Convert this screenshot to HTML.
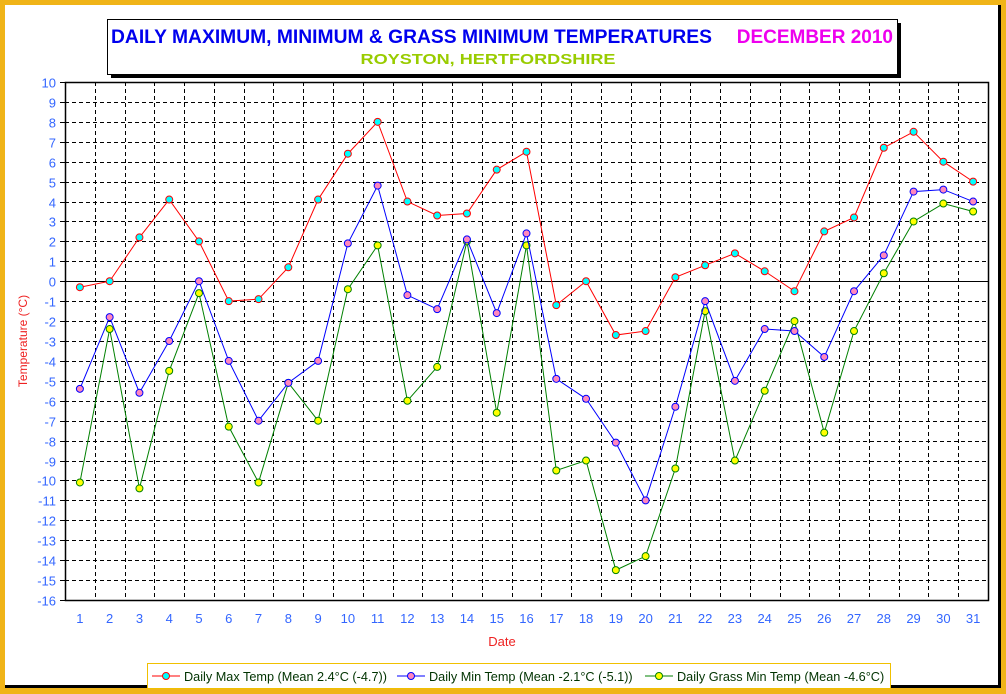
<!DOCTYPE html>
<html><head><meta charset="utf-8"><style>
body{margin:0;width:1006px;height:694px;overflow:hidden;background:#f0b418;font-family:"Liberation Sans",sans-serif}
#frame{position:absolute;left:5px;top:5px;width:993px;height:680px;background:#fff;border-right:3px solid #000;border-bottom:3px solid #000}
</style></head><body>
<div id="frame"></div>
<svg id="c" width="1006" height="694" style="position:absolute;left:0;top:0" font-family="Liberation Sans, sans-serif"></svg>
<script>
const days=[1,2,3,4,5,6,7,8,9,10,11,12,13,14,15,16,17,18,19,20,21,22,23,24,25,26,27,28,29,30,31];
const maxTemp=[-0.3,0,2.2,4.1,2,-1,-0.9,0.7,4.1,6.4,8,4,3.3,3.4,5.6,6.5,-1.2,0,-2.7,-2.5,0.2,0.8,1.4,0.5,-0.5,2.5,3.2,6.7,7.5,6,5];
const minTemp=[-5.4,-1.8,-5.6,-3,0,-4,-7,-5.1,-4,1.9,4.8,-0.7,-1.4,2.1,-1.6,2.4,-4.9,-5.9,-8.1,-11,-6.3,-1,-5,-2.4,-2.5,-3.8,-0.5,1.3,4.5,4.6,4];
const grassMin=[-10.1,-2.4,-10.4,-4.5,-0.6,-7.3,-10.1,-5.1,-7,-0.4,1.8,-6,-4.3,2,-6.6,1.8,-9.5,-9,-14.5,-13.8,-9.4,-1.5,-9,-5.5,-2,-7.6,-2.5,0.4,3,3.9,3.5];
const yTicks=[10,9,8,7,6,5,4,3,2,1,0,-1,-2,-3,-4,-5,-6,-7,-8,-9,-10,-11,-12,-13,-14,-15,-16];
const L=65,R=988,T=82,B=600,yMax=10,yMin=-16;
const bw=(R-L)/days.length;
const X=i=>L+(i+0.5)*bw;
const Y=v=>T+(yMax-v)*(B-T)/(yMax-yMin);
const svg=document.getElementById('c');const NS='http://www.w3.org/2000/svg';
function mk(tag,a,txt){const e=document.createElementNS(NS,tag);for(const k in a)e.setAttribute(k,a[k]);if(txt!==undefined)e.textContent=txt;svg.appendChild(e);return e;}
let e=mk('rect',{x:111,y:23,width:790,height:55,fill:'#000'});


e=mk('rect',{x:107.5,y:19.5,width:790,height:55,fill:'#fff',stroke:'#000'});


e=mk('text',{x:111,y:43,fill:'#0000ee','font-size':19,'font-weight':'bold',textLength:601,lengthAdjust:'spacingAndGlyphs'},'DAILY MAXIMUM, MINIMUM & GRASS MINIMUM TEMPERATURES');


e=mk('text',{x:893,y:43,fill:'#ee00ee','font-size':19,'font-weight':'bold','text-anchor':'end'},'DECEMBER 2010');


e=mk('text',{x:488,y:64,fill:'#99cc00','font-size':15,'font-weight':'bold','text-anchor':'middle',textLength:255,lengthAdjust:'spacingAndGlyphs'},'ROYSTON, HERTFORDSHIRE');


yTicks.forEach(v=>{const y=Math.round(Y(v))+0.5;
 if(v!==yMax&&v!==yMin){e=mk('line',{x1:L,x2:R,y1:y,y2:y,stroke:'#000','stroke-dasharray':v===0?'':'4,3'});
 
 }
 mk('line',{x1:L-5,x2:L,y1:y,y2:y,stroke:'#000'});
 e=mk('text',{x:L-9,y:y+5,fill:'#3366ff','font-size':13,'text-anchor':'end'},String(v));
 
 });
days.forEach((d,i)=>{const x=Math.round(L+(i+1)*bw)+0.5;
 if(i<days.length-1){e=mk('line',{x1:x,x2:x,y1:T,y2:B,stroke:'#000','stroke-dasharray':'4,3'});
 
 }
 e=mk('text',{x:X(i),y:623,fill:'#3366ff','font-size':13,'text-anchor':'middle'},String(d));
 
 });
e=mk('rect',{x:L+0.5,y:T+0.5,width:R-L,height:B-T,fill:'none',stroke:'#000','stroke-width':1.5});


e=mk('text',{x:502,y:646,fill:'#ee2222','font-size':13,'text-anchor':'middle'},'Date');


e=mk('text',{x:27,y:341,fill:'#ee2222','font-size':12,'text-anchor':'middle',transform:'rotate(-90 27 341)'},'Temperature (°C)');


function series(arr,line,fill,name){
 e=mk('polyline',{points:arr.map((v,i)=>X(i)+','+Y(v)).join(' '),fill:'none',stroke:line,'stroke-width':1});
 
 
 arr.forEach((v,i)=>{e=mk('circle',{cx:X(i),cy:Y(v),r:3.5,fill:fill,stroke:line});
 
 });
}
series(grassMin,'#008000','#ffff00','grass-min');
series(minTemp,'#0000ff','#ff88bb','min-temp');
series(maxTemp,'#ff0000','#00ffff','max-temp');
e=mk('rect',{x:147.5,y:663.5,width:743,height:25,fill:'#fff',stroke:'#f0c000'});


[[152,'#ff0000','#00ffff','Daily Max Temp (Mean 2.4°C (-4.7))'],[397,'#0000ff','#ff88bb','Daily Min Temp (Mean -2.1°C (-5.1))'],[645,'#008000','#ffff00','Daily Grass Min Temp (Mean -4.6°C)']].forEach(l=>{
 mk('line',{x1:l[0],x2:l[0]+28,y1:676,y2:676,stroke:l[1]});
 mk('circle',{cx:l[0]+14,cy:676,r:3.5,fill:l[2],stroke:l[1]});
 e=mk('text',{x:l[0]+32,y:681,fill:'#003300','font-size':12.7},l[3]);
 
 });
</script>
</body></html>
